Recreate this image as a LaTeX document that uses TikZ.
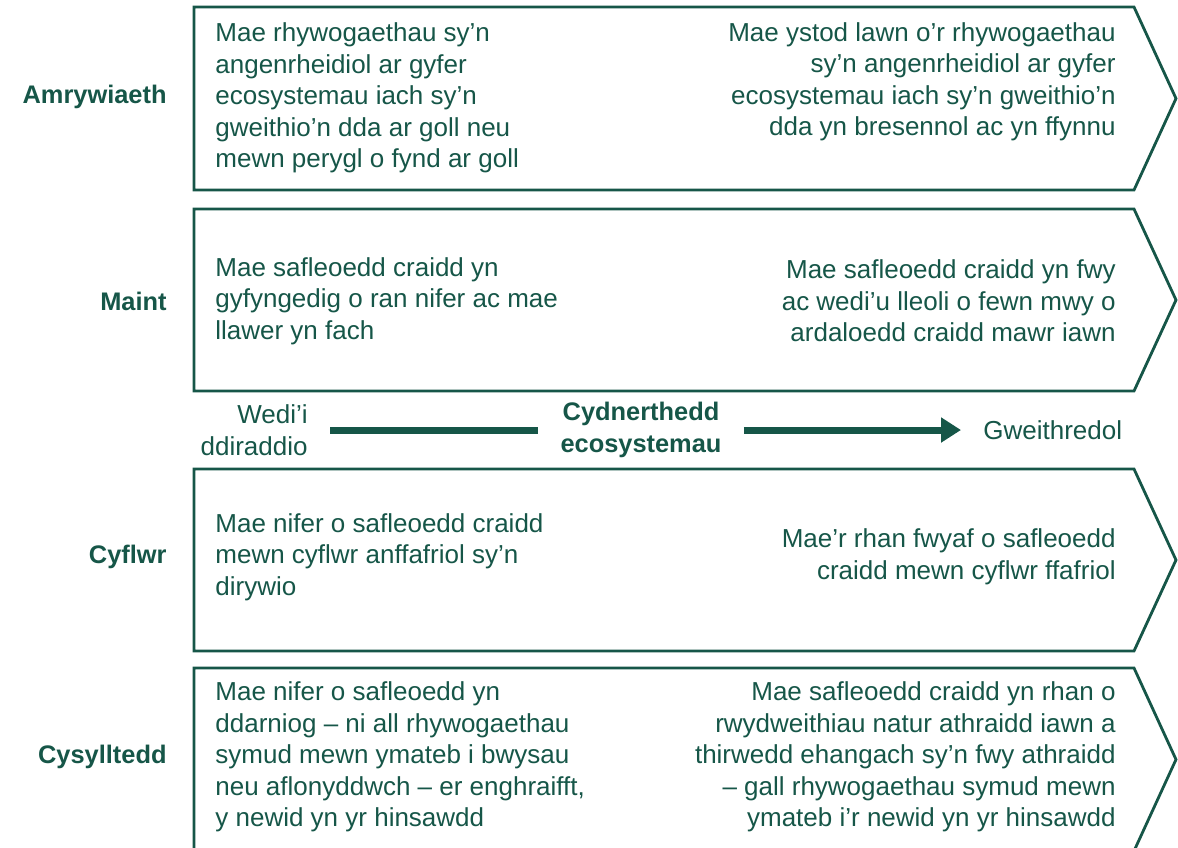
\documentclass[tikz,border=0pt]{standalone}
\usepackage{fontspec}
\setmainfont{Liberation Sans}
\usetikzlibrary{arrows.meta}
\definecolor{cydgreen}{RGB}{22,86,72}
\newcommand\cydfont{\fontsize{13}{15.75}\selectfont}
\tikzset{
  rowhead/.style={anchor=east, align=right, inner sep=0pt, font=\fontsize{12.7}{15.75}\selectfont\bfseries},
  lefttext/.style={anchor=west, align=left, inner sep=0pt},
  righttext/.style={anchor=east, align=right, inner sep=0pt},
  boxline/.style={draw=cydgreen, line width=1.4pt, line join=miter},
  scalenode/.style={inner xsep=11pt, inner ysep=0pt},
  flowline/.style={draw=cydgreen, line width=3.5pt},
}
\begin{document}
\begin{tikzpicture}[x=0.5pt, y=-0.5pt, text=cydgreen, font=\cydfont]
    \useasboundingbox (0, 0) rectangle (1178, 847);
    \clip (0, 0) rectangle (1178, 847);
    % boxes
    \draw[boxline] (194, 7) -- (1134, 7) -- (1176, 98.5) -- (1134, 190) -- (194, 190) -- cycle;
    \draw[boxline] (194, 209) -- (1134, 209) -- (1176, 300) -- (1134, 391) -- (194, 391) -- cycle;
    \draw[boxline] (194, 469) -- (1134, 469) -- (1176, 560) -- (1134, 651) -- (194, 651) -- cycle;
    \draw[boxline] (194, 668) -- (1134, 668) -- (1176, 759.5) -- (1134, 851) -- (194, 851) -- cycle;
    % row headings
    \node[rowhead] (amryw) at (167, 97) {Amrywiaeth};
    \node[rowhead] (maint) at (167, 301) {Maint};
    \node[rowhead] (cyflwr) at (167, 557) {Cyflwr};
    \node[rowhead] (cysyll) at (167, 757) {Cysylltedd};
    % Amrywiaeth
    \node[lefttext] (amrywL) at (215, 98) {Mae rhywogaethau sy’n\\angenrheidiol ar gyfer\\ecosystemau iach sy’n\\gweithio’n dda ar goll neu\\mewn perygl o fynd ar goll};
    \node[righttext] (amrywR) at (1116, 82) {Mae ystod lawn o’r rhywogaethau\\sy’n angenrheidiol ar gyfer\\ecosystemau iach sy’n gweithio’n\\dda yn bresennol ac yn ffynnu};
    % Maint
    \node[lefttext] (maintL) at (215, 301) {Mae safleoedd craidd yn\\gyfyngedig o ran nifer ac mae\\llawer yn fach};
    \node[righttext] (maintR) at (1116, 301) {Mae safleoedd craidd yn fwy\\ac wedi’u lleoli o fewn mwy o\\ardaloedd craidd mawr iawn};
    % Cyflwr
    \node[lefttext] (cyflwrL) at (215, 557) {Mae nifer o safleoedd craidd\\mewn cyflwr anffafriol sy’n\\dirywio};
    \node[righttext] (cyflwrR) at (1116, 557) {Mae’r rhan fwyaf o safleoedd\\craidd mewn cyflwr ffafriol};
    % Cysylltedd
    \node[lefttext] (cysyllL) at (215, 757) {Mae nifer o safleoedd yn\\ddarniog – ni all rhywogaethau\\symud mewn ymateb i bwysau\\neu aflonyddwch – er enghraifft,\\y newid yn yr hinsawdd};
    \node[righttext] (cysyllR) at (1116, 757) {Mae safleoedd craidd yn rhan o\\rwydweithiau natur athraidd iawn a\\thirwedd ehangach sy’n fwy athraidd\\– gall rhywogaethau symud mewn\\ymateb i’r newid yn yr hinsawdd};
    % scale
    \node[scalenode, anchor=east, align=right] (degraded) at (330, 430) {Wedi’i\\ddiraddio};
    \node[scalenode, align=center, font=\fontsize{12.7}{15.75}\selectfont\bfseries] (resil) at (641, 430) {Cydnerthedd\\ecosystemau};
    \node[scalenode, anchor=west] (funct) at (961, 430) {Gweithredol};
    \draw[flowline] (degraded) -- (resil);
    \draw[flowline, -{Triangle[length=10pt, width=12pt]}] (resil) -- (funct);
\end{tikzpicture}
\end{document}
